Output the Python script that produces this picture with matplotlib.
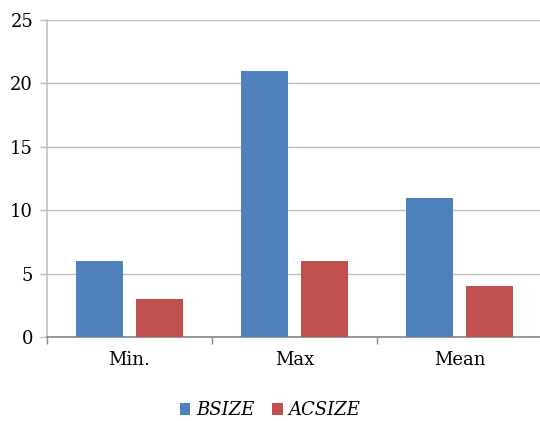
import numpy as np
import matplotlib.pyplot as plt

categories = ['Min.', 'Max', 'Mean']
bsize = [6, 21, 11]
acsize = [3, 6, 4]

plt.rcParams['font.family'] = 'DejaVu Serif'

fig = plt.figure(figsize=(5.4, 4.21), dpi=100)
ax = fig.add_axes([47 / 540, 84 / 421, 495 / 540, 317 / 421])

x = np.arange(len(categories))
w = 0.285
ax.bar(x - 0.182, bsize, w, color='#4F81BD', label='BSIZE', zorder=3)
ax.bar(x + 0.182, acsize, w, color='#C0504D', label='ACSIZE', zorder=3)

ax.set_xlim(-0.5, 2.5)
ax.set_ylim(0, 25)
ax.set_yticks(range(0, 26, 5))
ax.yaxis.grid(True, color='#BFBFBF', lw=1, zorder=0)

# category labels between boundary ticks
ax.set_xticks([-0.5, 0.5, 1.5, 2.5])
ax.set_xticklabels([])
ax.set_xticks(x, minor=True)
ax.set_xticklabels(categories, minor=True)
ax.tick_params(axis='x', which='minor', length=0, pad=10, labelsize=13)
ax.tick_params(axis='x', which='major', length=5, color='#868686', width=1)
ax.tick_params(axis='y', length=5, color='#BFBFBF', width=1, labelsize=13, pad=5)

for s in ['top', 'right']:
    ax.spines[s].set_visible(False)
ax.spines['left'].set_color('#BFBFBF')
ax.spines['bottom'].set_color('#868686')
ax.spines['left'].set_linewidth(1.2)
ax.spines['bottom'].set_linewidth(1.2)

fig.legend(loc='lower center', bbox_to_anchor=(0.5, -0.035), ncol=2, frameon=False,
           prop={'style': 'italic', 'size': 13}, handlelength=0.6, handleheight=0.6,
           handletextpad=0.3, columnspacing=1.0)

fig.savefig('out.png', dpi=100)
